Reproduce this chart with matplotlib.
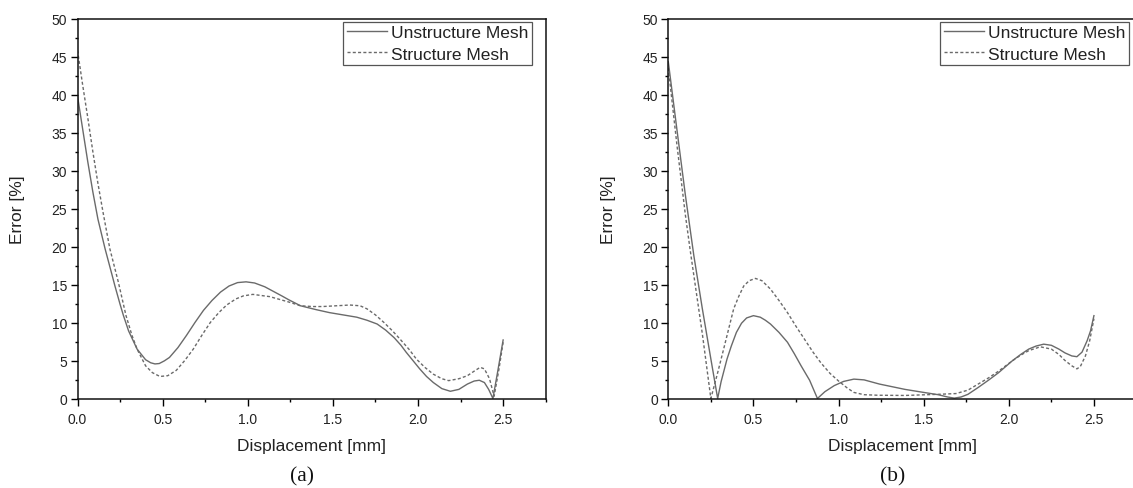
import numpy as np
import matplotlib
matplotlib.use("Agg")
import matplotlib.pyplot as plt
from matplotlib.ticker import MultipleLocator, FormatStrFormatter

plt.rcParams["font.family"] = ["Liberation Sans", "DejaVu Sans"]

# (a) error vs displacement
a_unstr_x = [0.0, 0.03, 0.06, 0.09, 0.12, 0.162, 0.20, 0.22, 0.25, 0.27, 0.30, 0.35, 0.40, 0.43,
             0.455, 0.48, 0.51, 0.54, 0.59, 0.64, 0.69, 0.74, 0.79, 0.84, 0.89, 0.94, 0.99, 1.04,
             1.10, 1.15, 1.20, 1.24, 1.31, 1.40, 1.48, 1.56, 1.64, 1.70, 1.76, 1.81, 1.86, 1.90,
             1.93, 1.97, 2.01, 2.05, 2.09, 2.14, 2.19, 2.24, 2.29, 2.33, 2.36, 2.39, 2.415, 2.44,
             2.47, 2.50]
a_unstr_y = [39.8, 35.5, 31.2, 27.2, 23.6, 19.7, 16.5, 14.8, 12.4, 10.9, 8.9, 6.5, 5.1, 4.7,
             4.55, 4.6, 4.95, 5.4, 6.7, 8.3, 10.0, 11.6, 12.9, 14.0, 14.8, 15.25, 15.35, 15.2,
             14.7, 14.1, 13.5, 13.0, 12.2, 11.7, 11.3, 11.0, 10.7, 10.3, 9.8, 9.0, 8.0, 7.0,
             6.1, 5.0, 3.9, 2.9, 2.1, 1.3, 0.95, 1.2, 1.9, 2.3, 2.4, 2.1, 1.2, 0.0,
             3.8, 7.7]

a_str_x = [0.0, 0.03, 0.06, 0.09, 0.12, 0.15, 0.19, 0.24, 0.285, 0.32, 0.35, 0.40, 0.44, 0.484,
           0.53, 0.58, 0.63, 0.68, 0.73, 0.78, 0.83, 0.876, 0.93, 0.974, 1.03, 1.13, 1.24, 1.31,
           1.38, 1.44, 1.52, 1.60, 1.66, 1.70, 1.75, 1.80, 1.85, 1.895, 1.95, 1.99, 2.04, 2.09,
           2.14, 2.18, 2.24, 2.29, 2.33, 2.365, 2.39, 2.42, 2.447, 2.475, 2.50]
a_str_y = [45.8, 41.3, 37.0, 32.5, 28.3, 24.5, 19.7, 15.3, 10.9, 8.3, 6.5, 4.3, 3.4, 2.9,
           3.0, 3.7, 5.0, 6.5, 8.3, 10.0, 11.3, 12.3, 13.1, 13.5, 13.7, 13.4, 12.7, 12.2,
           12.1, 12.1, 12.2, 12.3, 12.2, 11.8, 11.0, 10.0, 8.9, 7.8, 6.4, 5.2, 4.1, 3.2,
           2.6, 2.35, 2.6, 3.0, 3.6, 4.1, 3.9, 2.6, 0.3, 3.8, 7.4]

# (b) error vs displacement
b_unstr_x = [0.0, 0.05, 0.10, 0.15, 0.20, 0.25, 0.29, 0.31, 0.345, 0.37, 0.40, 0.43, 0.46, 0.50,
             0.54, 0.57, 0.60, 0.65, 0.70, 0.74, 0.78, 0.83, 0.876, 0.92, 0.975, 1.03, 1.09, 1.15,
             1.24, 1.39, 1.50, 1.585, 1.64, 1.68, 1.72, 1.76, 1.82, 1.88, 1.94, 2.02, 2.07, 2.117,
             2.16, 2.205, 2.25, 2.294, 2.33, 2.37, 2.40, 2.43, 2.46, 2.48, 2.50]
b_unstr_y = [44.3, 35.5, 26.8, 18.8, 11.8, 5.2, 0.0, 2.2, 5.2, 6.9, 8.7, 9.9, 10.6, 10.9,
             10.7, 10.3, 9.8, 8.7, 7.4, 5.9, 4.3, 2.4, 0.0, 0.9, 1.7, 2.25, 2.55, 2.45,
             1.9, 1.2, 0.8, 0.5, 0.2, 0.05, 0.2, 0.55, 1.45, 2.4, 3.4, 4.95, 5.8, 6.5,
             6.9, 7.15, 7.0, 6.5, 6.0, 5.6, 5.5, 6.1, 7.6, 8.9, 10.9]

b_str_x = [0.0, 0.05, 0.10, 0.128, 0.15, 0.20, 0.25, 0.29, 0.325, 0.355, 0.384, 0.415, 0.443,
           0.475, 0.512, 0.55, 0.60, 0.65, 0.70, 0.75, 0.80, 0.85, 0.896, 0.95, 1.0, 1.05, 1.09,
           1.15, 1.23, 1.39, 1.585, 1.69, 1.76, 1.82, 1.88, 1.94, 2.02, 2.07, 2.117, 2.185,
           2.25, 2.294, 2.33, 2.37, 2.40, 2.42, 2.45, 2.475, 2.50]
b_str_y = [43.5, 33.5, 24.2, 19.6, 16.2, 8.5, 0.0, 3.4, 6.5, 9.2, 11.8, 13.5, 14.8,
           15.5, 15.8, 15.5, 14.4, 12.9, 11.3, 9.5, 7.8, 6.1, 4.7, 3.3, 2.3, 1.4, 0.8,
           0.5, 0.43, 0.4, 0.55, 0.65, 1.1, 1.9, 2.7, 3.6, 4.95, 5.7, 6.3, 6.8,
           6.5, 5.8, 5.0, 4.3, 3.9, 4.2, 5.6, 7.6, 10.5]

series_names = ["Unstructure Mesh", "Structure Mesh"]
panel_tags = ["(a)", "(b)"]

W, H = 1133, 489
fig = plt.figure(figsize=(W / 100, H / 100), dpi=100)

line_col = "#6a6a6a"
ax_w = 468.2 / W
ax_h = 380.0 / H
ax_b = (H - 399.5) / H
lefts = [77.5 / W, 668.3 / W]
leg_anchor = [(0.9707, 0.9916), (0.984, 0.9916)]

panels = [(a_unstr_x, a_unstr_y, a_str_x, a_str_y),
          (b_unstr_x, b_unstr_y, b_str_x, b_str_y)]

for i, (ux, uy, sx, sy) in enumerate(panels):
    ax = fig.add_axes([lefts[i], ax_b, ax_w, ax_h])
    ax.plot(ux, uy, color=line_col, lw=1.0, label=series_names[0])
    ax.plot(sx, sy, color=line_col, lw=1.0, dashes=(2.2, 1.6), label=series_names[1])

    ax.set_xlim(0, 2.75)
    ax.set_ylim(0, 50)
    ax.xaxis.set_major_locator(MultipleLocator(0.5))
    ax.xaxis.set_minor_locator(MultipleLocator(0.25))
    ax.yaxis.set_major_locator(MultipleLocator(5))
    ax.yaxis.set_minor_locator(MultipleLocator(2.5))
    ax.xaxis.set_major_formatter(FormatStrFormatter("%.1f"))
    ax.tick_params(which="both", direction="out", top=False, right=False,
                   colors="black", labelcolor="#222222", labelsize=10)
    ax.tick_params(which="major", length=5, width=1.0)
    ax.tick_params(which="minor", length=2.5, width=1.0)
    ax.tick_params(axis="y", pad=2.5)
    ax.tick_params(axis="x", pad=4.5)
    for sp in ax.spines.values():
        sp.set_linewidth(1.1)
        sp.set_color("#111111")

    ax.set_xlabel("Displacement [mm]", fontsize=12.5, color="#222222", labelpad=9)
    ax.set_ylabel("Error [%]", fontsize=12.5, color="#222222", labelpad=19)

    leg = ax.legend(loc="upper right", bbox_to_anchor=leg_anchor[i], borderaxespad=0,
                    fontsize=12.5, fancybox=False, framealpha=1, borderpad=0.2,
                    labelspacing=0.35, handlelength=2.3, handletextpad=0.25)
    leg.get_frame().set_edgecolor("#555555")
    leg.get_frame().set_linewidth(0.9)
    for t in leg.get_texts():
        t.set_color("#222222")

    fig.text(lefts[i] + ax_w * 0.48, 1 - 476.5 / H, panel_tags[i], ha="center", va="center",
             fontsize=15.5, family="Liberation Serif", color="#111111")

fig.savefig("out.png", dpi=100)
